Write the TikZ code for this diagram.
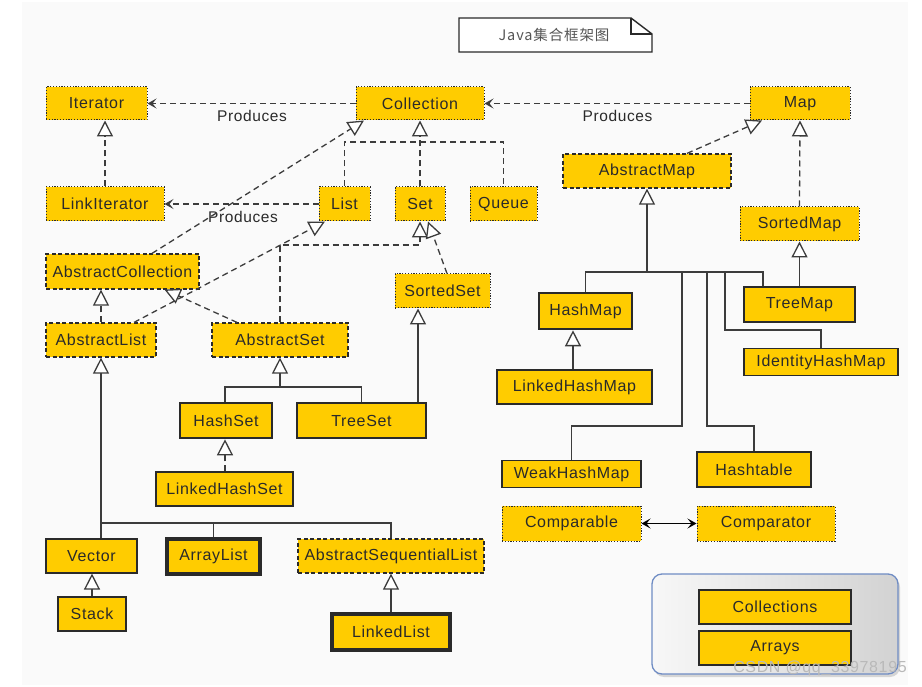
\documentclass[tikz,border=0pt]{standalone}
\usepackage{fontspec}
\setmainfont{Liberation Sans}[LetterSpace=4]
\newfontfamily\cjk{Noto Sans CJK SC}[LetterSpace=6]
\usetikzlibrary{arrows.meta,shadows,calc}
\definecolor{gold}{HTML}{FFCC00}
\definecolor{ink}{HTML}{2A2A2A}
\definecolor{edge}{HTML}{3C3C3C}
\definecolor{grpborder}{HTML}{6F8CC4}
\definecolor{panel}{HTML}{FAFAFA}
\begin{document}
\begin{tikzpicture}[x=1pt,y=-1pt,
 box/.style={fill=gold, draw=ink, inner sep=0pt, font=\fontsize{16}{18}\selectfont, text=ink},
 iface/.style={box, dash pattern=on 1.2pt off 1.6pt, line width=1pt},
 abstr/.style={box, dash pattern=on 4pt off 2.5pt, line width=1.2pt},
 cls/.style={box, line width=1.1pt},
 mainc/.style={box, line width=2.6pt},
 mainx/.style={box, line width=3.2pt},
 link/.style={draw=edge, line width=1.3pt},
 dlink/.style={link, dash pattern=on 6pt off 4pt},
 inh/.style={-{Triangle[open, length=16pt, width=16pt, fill=white]}},
 dep/.style={-{Stealth[length=9pt, width=10pt, inset=4pt]}},
 lbl/.style={font=\fontsize{15.5}{17}\selectfont, text=ink},
]
\useasboundingbox (0,0) rectangle (922,687);
\fill[white] (0,0) rectangle (922,687);
\fill[panel] (22,2) rectangle (908,685);

% title note
\draw[fill=white, draw=ink, line width=1.4pt] (459,18) -- (631,18) -- (652,34) -- (652,52) -- (459,52) -- cycle;
\draw[draw=ink, line width=1.2pt] (631,18) -- (631,34) -- (652,34);
\node[font=\cjk\fontsize{14.5}{17}\selectfont, text=ink!80] (title) at (554,35) {Java集合框架图};

% interfaces and classes
\node[iface, minimum width=101pt, minimum height=33pt] (it) at (96.5,103.5) {Iterator};
\node[iface, minimum width=118pt, minimum height=34pt] (lit) at (105,204) {LinkIterator};
\node[iface, minimum width=128pt, minimum height=33pt] (coll) at (420,103.5) {Collection};
\node[iface, minimum width=51pt, minimum height=34pt] (list) at (344.5,204) {List};
\node[iface, minimum width=50pt, minimum height=34pt] (set) at (420,204) {Set};
\node[iface, minimum width=67pt, minimum height=34pt] (queue) at (503.5,204) {Queue};
\node[iface, minimum width=100pt, minimum height=33pt] (map) at (800,103.5) {Map};
\node[abstr, minimum width=168pt, minimum height=34pt] (amap) at (647,171) {AbstractMap};
\node[iface, minimum width=119pt, minimum height=34pt] (smap) at (799.5,224) {SortedMap};
\node[abstr, minimum width=153pt, minimum height=35pt] (acoll) at (122.5,271.5) {AbstractCollection};
\node[abstr, minimum width=110pt, minimum height=34pt] (alist) at (101,340) {AbstractList};
\node[abstr, minimum width=136pt, minimum height=34pt] (aset) at (280,340) {AbstractSet};
\node[iface, minimum width=95pt, minimum height=34pt] (sset) at (442.5,291) {SortedSet};
\node[mainc, minimum width=92pt, minimum height=35pt] (hset) at (226,420.5) {HashSet};
\node[cls, minimum width=129pt, minimum height=35pt] (tset) at (361.5,420.5) {TreeSet};
\node[cls, minimum width=137pt, minimum height=34pt] (lhset) at (224.5,489) {LinkedHashSet};
\node[mainc, minimum width=93pt, minimum height=36pt] (hmap) at (585.5,311) {HashMap};
\node[cls, minimum width=155pt, minimum height=34pt] (lhmap) at (574.5,387) {LinkedHashMap};
\node[cls, minimum width=111pt, minimum height=35pt] (tmap) at (799.5,304.5) {TreeMap};
\node[cls, minimum width=154pt, minimum height=27pt] (ihm) at (821,362) {IdentityHashMap};
\node[cls, minimum width=139pt, minimum height=27pt] (whm) at (571.5,474) {WeakHashMap};
\node[cls, minimum width=114pt, minimum height=35pt] (ht) at (754,469.5) {Hashtable};
\node[iface, minimum width=139pt, minimum height=35pt] (cmpb) at (571.5,523.5) {Comparable};
\node[iface, minimum width=138pt, minimum height=35pt] (cmpt) at (766,523.5) {Comparator};
\node[cls, minimum width=91pt, minimum height=34pt] (vec) at (91.5,556) {Vector};
\node[mainx, minimum width=93pt, minimum height=35pt] (alst) at (213.5,556.5) {ArrayList};
\node[abstr, minimum width=186pt, minimum height=34pt] (aseq) at (391,556) {AbstractSequentialList};
\node[cls, minimum width=68pt, minimum height=34pt] (stack) at (92,614) {Stack};
\node[mainx, minimum width=118pt, minimum height=36pt] (llist) at (391,632) {LinkedList};

% utility group
\node[draw=grpborder, rounded corners=10pt, line width=1.3pt, left color=gray!6, right color=gray!35,
      drop shadow={opacity=0.3, shadow xshift=2pt, shadow yshift=-3pt},
      minimum width=246pt, minimum height=100pt] (grp) at (775,624) {};
\node[cls, minimum width=152pt, minimum height=34pt] (colls) at (775,607) {Collections};
\node[cls, minimum width=152pt, minimum height=34pt] (arrs) at (775,648) {Arrays};

% produces
\draw[dlink,dep] (coll.west) -- (it.east);
\draw[dlink,dep] (map.west) -- (coll.east);
\draw[dlink,dep] (list.west) -- (lit.east);
\node[lbl] (p1) at (252,116) {Produces};
\node[lbl] (p2) at (243,217) {Produces};
\node[lbl] (p3) at (617.5,116) {Produces};

% interface hierarchy
\draw[dlink,inh] (lit.north) -- (lit.north |- it.south);
\coordinate (cbus) at (0,142);
\draw[dlink] (list.north) -- (list.north |- cbus) -- (queue.north |- cbus) -- (queue.north);
\draw[dlink,inh] (set.north) -- (coll.south);
\draw[dlink,inh] ([xshift=29.5pt]acoll.north) -- ([xshift=-56pt]coll.south);
\draw[dlink,inh] ([xshift=33pt]alist.north) -- ([xshift=-19.5pt]list.south);
\coordinate (sbus) at (0,245);
\draw[dlink,inh] (aset.north) -- (aset.north |- sbus) -- (set.south |- sbus) -- (set.south);
\draw[dlink,inh] ([xshift=4.5pt]sset.north) -- ([xshift=8pt]set.south);
\draw[dlink,inh] (alist.north) -- (alist.north |- acoll.south);
\draw[dlink,inh] ([xshift=-43pt]aset.north) -- ([xshift=42pt]acoll.south);

% sets
\coordinate (hbus) at (0,387);
\draw[link,inh] (aset.south |- hbus) -- (aset.south);
\draw[link] ([xshift=-1pt]hset.north) -- ([xshift=-1pt]hset.north |- hbus) -- (tset.north |- hbus) -- (tset.north);
\draw[link,inh] ([xshift=56.5pt]tset.north) -- ([xshift=56.5pt]tset.north |- sset.south);
\draw[dlink,inh] ([xshift=-1pt]hset.south |- lhset.north) -- ([xshift=-1pt]hset.south);

% lists
\coordinate (lbus) at (0,523);
\draw[link,inh] (alist.south |- lbus) -- (alist.south);
\draw[link] (alist.south |- vec.north) -- (alist.south |- lbus) -- (aseq.north |- lbus) -- (aseq.north);
\draw[link] (alst.north) -- (alst.north |- lbus);
\draw[link,inh] (stack.north) -- (stack.north |- vec.south);
\draw[link,inh] (llist.north) -- (aseq.south);

% maps
\draw[dlink,inh] (smap.north) -- (map.south);
\draw[dlink,inh] ([xshift=40pt]amap.north) -- ([xshift=-38pt]map.south);
\coordinate (mbus) at (0,272);
\draw[link,inh] (amap.south |- mbus) -- (amap.south);
\draw[link] (hmap.north) -- (hmap.north |- mbus) -- ([xshift=-36.5pt]tmap.north |- mbus) -- ([xshift=-36.5pt]tmap.north);
\draw[link,inh] (tmap.north) -- (smap.south);
\draw[link,inh] ([xshift=-1.5pt]lhmap.north) -- ([xshift=-1.5pt]lhmap.north |- hmap.south);
\coordinate (wa) at (682,272);
\coordinate (wb) at (682,426);
\draw[link] (wa) -- (wb) -- (wb -| whm.north) -- (whm.north);
\coordinate (ha) at (707,272);
\coordinate (hb) at (707,426);
\draw[link] (ha) -- (hb) -- (hb -| ht.north) -- (ht.north);
\coordinate (ia) at (725,272);
\coordinate (ib) at (725,330);
\draw[link] (ia) -- (ib) -- (ib -| ihm.north) -- (ihm.north);

% comparable <-> comparator
\draw[line width=1.3pt, draw=black, {Stealth[length=9pt, width=10pt, inset=4pt]}-{Stealth[length=9pt, width=10pt, inset=4pt]}] (cmpb.east) -- (cmpt.west);

% watermark
\node[font=\fontsize{16}{18}\selectfont, text=gray!55] (wm) at (820,668) {CSDN @qq\_33978195};
\end{tikzpicture}
\end{document}
